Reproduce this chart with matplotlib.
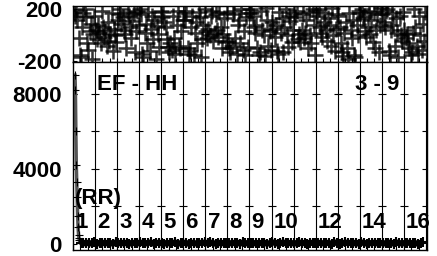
import numpy as np
import matplotlib
matplotlib.use("Agg")
import matplotlib.pyplot as plt

plt.rcParams['font.family'] = ['Liberation Sans', 'DejaVu Sans']
plt.rcParams['font.weight'] = 'bold'

# ---------------- data ----------------
segments = list(range(1, 17))
segment_labels = ["1", "2", "3", "4", "5", "6", "7", "8", "9", "10", "", "12", "", "14", "", "16"]

top_seg_values = [
    [180, 150, 195, 120, -20, -150, -170, 60, 170, 200, 140, -60, -110, 30, 90, -180, 10, 150],
    [40, -30, 80, 20, -60, 190, 60, -10, 30, -80, 100, -40, 10, 170, -120, 50, 0, -50],
    [120, 160, 200, 90, 140, 40, 10, -100, 180, 150, 60, -20, 110, 170, -130, 30, 190, 80],
    [200, 160, -140, -170, 20, 90, -60, 180, -120, 50, 150, -30, 120, -180, 70, 10, -90, 190],
    [140, 180, 100, 60, -30, -90, -130, -60, -110, 150, -20, -140, 80, 190, -80, -100, 30, 120],
    [170, 120, 190, -100, -140, -120, 60, 150, -150, 20, 100, -60, 180, 140, -170, -30, 80, 200],
    [30, -20, 50, 0, 150, 190, -40, 20, 160, 40, -10, 180, 60, -100, 10, 130, -50, 170],
    [-40, -100, -130, -80, 160, 190, -20, -140, 80, 120, -60, 200, -110, 30, -150, 140, -90, 170],
    [200, 170, 150, 60, 20, 80, -100, -150, -130, 190, 40, 0, -160, 210, 120, -80, 30, -110],
    [100, 50, -10, 80, -120, -140, 180, 20, 130, -130, 60, 200, 0, -90, 150, 110, -50, 40],
    [170, 140, 190, -30, 10, -50, 40, 160, -20, 20, 120, -100, 180, 0, -60, 200, 80, -150],
    [190, 150, 200, 60, 20, -10, 100, 170, 40, -40, 130, 80, -80, 210, 0, -120, 50, 160],
    [150, 60, -60, -130, -160, 20, 100, -100, -180, 170, 40, -20, 120, -150, -170, 80, 0, 190],
    [170, 200, 130, 150, 30, -10, 60, 190, 10, 120, -50, 180, -100, 40, 160, -130, 80, 210],
    [160, 100, 60, 190, 200, -120, -150, 40, 170, 80, -80, 130, 20, -170, 150, 0, -40, 180],
    [40, -20, 10, -60, -100, -150, -130, 20, 200, 60, -80, -140, 150, 0, -110, 90, -40, 180],
]

rr_spike = [9000, 8200, 6000, 4200, 3300, 2500, 1500, 900, 500, 300, 200]
rr_values = [
    50, 30, 70, 40, 30, 80, 20, 60,
    40, 70, 30, 50, 20, 80, 60, 30,
    70, 40, 20, 60, 50, 30, 80, 40,
    30, 60, 80, 20, 50, 70, 40, 20,
    60, 30, 50, 80, 20, 40, 70, 50,
    20, 70, 40, 30, 60, 50, 80, 30,
    80, 40, 20, 70, 30, 60, 50, 40,
    40, 60, 70, 20, 80, 30, 50, 60,
    50, 30, 60, 40, 70, 20, 40, 80,
    70, 20, 50, 80, 40, 60, 30, 50,
    30, 80, 40, 60, 20, 70, 50, 40,
    60, 50, 30, 70, 40, 20, 80, 60,
    20, 40, 80, 50, 60, 30, 70, 20,
    80, 60, 20, 40, 50, 70, 30, 60,
    40, 30, 70, 60, 20, 80, 50, 30,
    50, 70, 60, 30, 40, 20, 60, 80,
]

title_left = "EF - HH"
title_right = "3 - 9"
series_label = "(RR)"
top_yticks = [-200, 200]
bottom_yticks = [0, 4000, 8000]
grid_levels = [2000, 4000, 6000, 8000]

# ---------------- figure ----------------
W, H = 437, 256
fig = plt.figure(figsize=(W / 100, H / 100), dpi=100)
L, R = 73 / W, 427 / W
ax_top = fig.add_axes([L, 1 - 62 / H, R - L, (62 - 6) / H])
ax_bot = fig.add_axes([L, 1 - 250 / H, R - L, (250 - 62) / H])

xmax = 16.05
fs = 16

# top panel scatter
for i, vals in enumerate(top_seg_values):
    n = len(vals)
    xs = i + (np.arange(n) + 0.5) / n
    ax_top.plot(xs, vals, linestyle='none', marker='+', markersize=11,
                markeredgewidth=1.8, color='black', alpha=0.8)
for s in segments:
    ax_top.axvline(s, color='black', lw=0.8, alpha=0.7)
ax_top.set_xlim(0, xmax)
ax_top.set_ylim(-205, 225)
ax_top.set_yticks(top_yticks)
ax_top.set_yticklabels([str(v) for v in top_yticks], fontsize=fs, fontweight='bold')
ax_top.set_xticks(np.arange(0, xmax, 1 / 3))
ax_top.tick_params(axis='x', direction='in', length=3, labelbottom=False, width=0.8)
ax_top.tick_params(axis='y', direction='in', length=3, pad=8)
for sp in ax_top.spines.values():
    sp.set_linewidth(1.0)

# bottom panel
for s in segments:
    ax_bot.axvline(s, color='black', lw=0.8)
for s in [0] + segments:
    ax_bot.plot([s] * len(grid_levels), grid_levels, linestyle='none', marker='_',
                markersize=6, markeredgewidth=0.8, color='black')

spike_x = 0.09 + np.arange(len(rr_spike)) * 0.02
ax_bot.plot(spike_x, rr_spike, color='#555555', lw=2.5, marker='+', markersize=6,
            markeredgecolor='black', markeredgewidth=0.8)
rr_x = spike_x[-1] + 0.06 + np.arange(len(rr_values)) * ((15.95 - spike_x[-1]) / len(rr_values))
ax_bot.plot(rr_x, rr_values, color='black', lw=4.5, marker='+', markersize=7,
            markeredgewidth=1.5, solid_capstyle='butt')

ax_bot.set_xlim(0, xmax)
ax_bot.set_ylim(-320, 9700)
ax_bot.set_yticks(bottom_yticks)
ax_bot.set_yticklabels([str(v) for v in bottom_yticks], fontsize=fs, fontweight='bold')
ax_bot.set_xticks(np.arange(0, xmax, 1 / 3))
ax_bot.tick_params(axis='x', direction='in', length=4, labelbottom=False, width=0.8)
ax_bot.tick_params(axis='y', direction='in', length=3, pad=8)
for sp in ax_bot.spines.values():
    sp.set_linewidth(1.0)

for s, lab in zip(segments, segment_labels):
    if lab:
        ax_bot.text(s - 1 + 0.1, 1150, lab, fontsize=fs, fontweight='bold',
                    ha='left', va='center')

ax_bot.text(1.08, 8480, title_left, fontsize=fs, fontweight='bold', ha='left', va='center')
ax_bot.text(12.8, 8480, title_right, fontsize=fs, fontweight='bold', ha='left', va='center')
ax_bot.text(0.08, 2450, series_label, fontsize=fs, fontweight='bold', ha='left', va='center')

fig.savefig("out.png", dpi=100)
